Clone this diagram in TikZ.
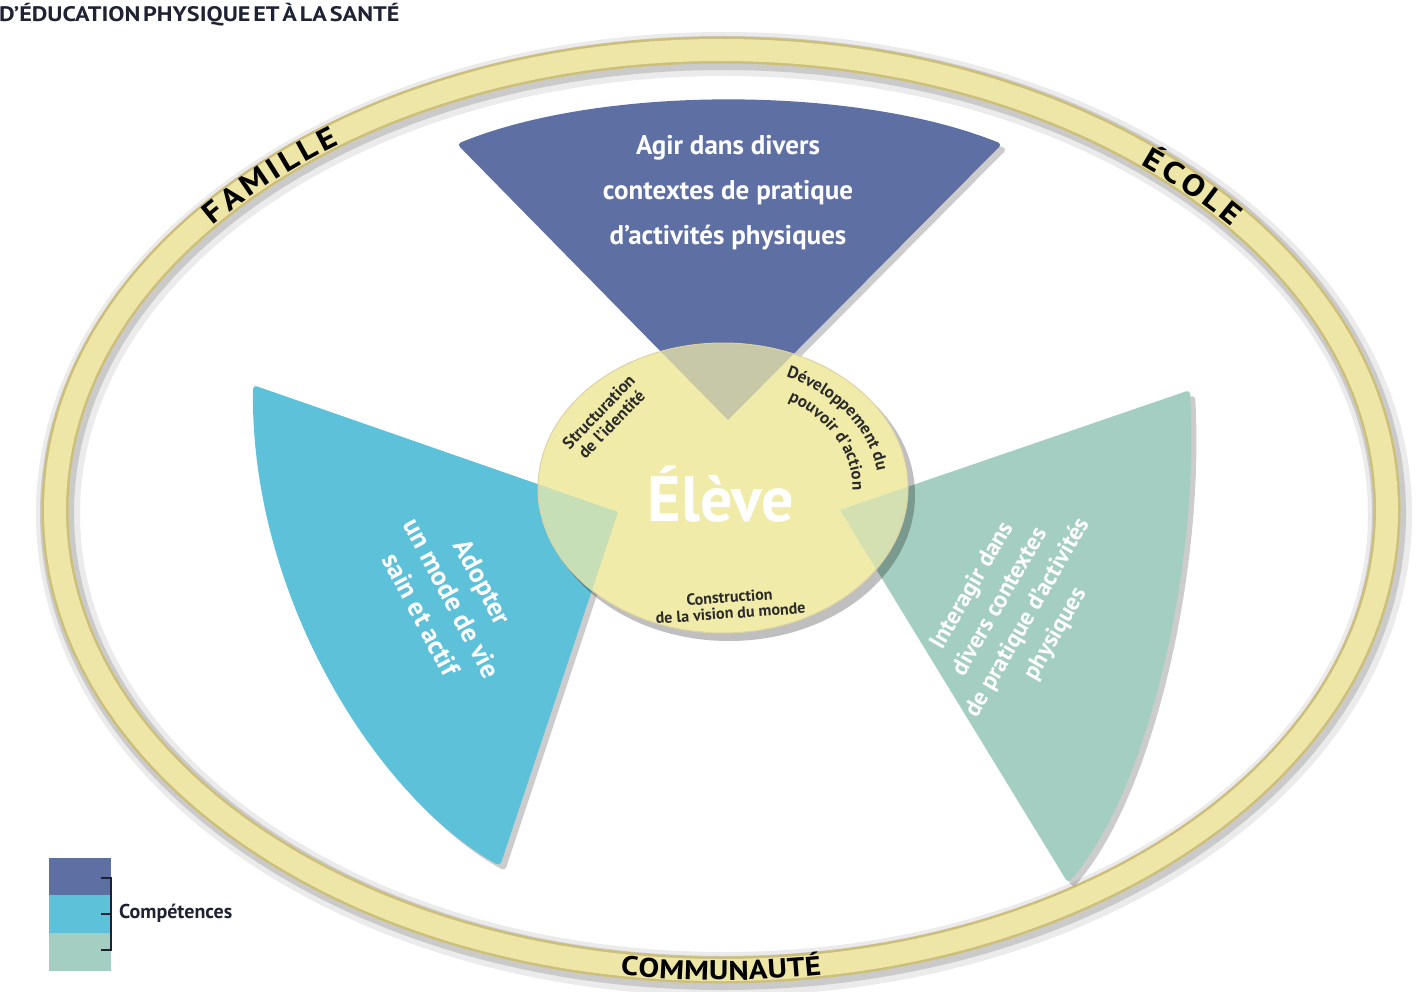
\documentclass[tikz,border=0pt]{standalone}
\usepackage{fontspec}
\setmainfont{PT Sans}
\newfontfamily\ringfont{PT Sans}[FakeStretch=1.15,WordSpace=0.45]
\usetikzlibrary{decorations.text,shadows}
\definecolor{topblue}{HTML}{5D6FA3}
\definecolor{cyanw}{HTML}{5DC1DA}
\definecolor{sagew}{HTML}{A3CEC1}
\definecolor{eleve}{HTML}{F1EBAA}
\definecolor{ringfill}{HTML}{EEE6A6}
\definecolor{ringedge}{HTML}{CDBF7A}
\definecolor{navy}{HTML}{1E2233}
\definecolor{inktext}{HTML}{2B2B2B}
\tikzset{
  wedge/.style={rounded corners=4pt, drop shadow={shadow xshift=5pt,shadow yshift=-5pt,opacity=.25,fill=black!80}},
  wtxt/.style={text=white, align=center, inner sep=0pt},
  smalltxt/.style={text=inktext, align=center, inner sep=0pt, font=\bfseries\fontsize{17}{18}\selectfont},
}
\begin{document}
\begin{tikzpicture}[x=1pt,y=-1pt]
\useasboundingbox (0,0) rectangle (1427,992);

% title
\node[anchor=west, inner sep=0pt, text=navy, font=\ringfont\bfseries\fontsize{21}{21}\selectfont] (title) at (-1,15) {D’ÉDUCATION PHYSIQUE ET À LA SANTÉ};

% outer ring
\coordinate (rc) at (721,510);
\draw[line width=44pt, black, opacity=.08] (724,514) ellipse [x radius=666, y radius=460];
\draw[line width=34pt, black, opacity=.14] (723,513) ellipse [x radius=666, y radius=460];
\draw[line width=27pt, ringedge] (rc) ellipse [x radius=666, y radius=460];
\draw[line width=22pt, ringfill] (rc) ellipse [x radius=666, y radius=460];

% ring labels
\path[decorate, decoration={text along path, text align=center, raise=-10pt,
  text={|\ringfont\bfseries\fontsize{30}{30}\selectfont|F A M I L L E}}]
  plot[samples=61, domain=0:40] ({721+666*cos(154-\x)}, {510-460*sin(154-\x)});
\path[decorate, decoration={text along path, text align=center, raise=-10pt,
  text={|\ringfont\bfseries\fontsize{30}{30}\selectfont|É C O L E}}]
  plot[samples=61, domain=0:34] ({721+666*cos(61-\x)}, {510-460*sin(61-\x)});
\path[decorate, decoration={text along path, text align=center, raise=-10pt,
  text={|\ringfont\bfseries\fontsize{27}{27}\selectfont|COMMUNAUTÉ}}]
  plot[samples=61, domain=0:40] ({721+666*cos(250+\x)}, {510-460*sin(250+\x)});

% wedges
\coordinate (tA) at (728,420);
\coordinate (t1) at (457,144);
\coordinate (t2) at (1002,144);
\coordinate (lA) at (618,512);
\coordinate (l1) at (253,385);
\coordinate (l2) at (500,866);
\coordinate (rA) at (840,510);
\coordinate (r1) at (1190,390);
\coordinate (r2) at (1068,883);

\fill[wedge, topblue] (tA) -- (t1) .. controls (600,85) and (856,85) .. (t2) -- cycle;
\fill[wedge, cyanw] (lA) -- (l1) .. controls (250,600) and (380,800) .. (l2) -- cycle;
\fill[wedge, sagew] (rA) -- (r1) .. controls (1200,560) and (1150,790) .. (r2) -- cycle;

% centre ellipse
\coordinate (ec) at (723,488);
\fill[black, opacity=.25] (729,495) ellipse [x radius=186, y radius=146];
\fill[eleve] (ec) ellipse [x radius=185, y radius=145];
\begin{scope}
  \clip (ec) ellipse [x radius=185, y radius=145];
  \fill[topblue, opacity=.28] (tA) -- (t1) .. controls (600,85) and (856,85) .. (t2) -- cycle;
  \fill[cyanw, opacity=.28] (lA) -- (l1) .. controls (250,600) and (380,800) .. (l2) -- cycle;
  \fill[sagew, opacity=.35] (rA) -- (r1) .. controls (1200,560) and (1150,790) .. (r2) -- cycle;
\end{scope}
\draw[ringedge!70, line width=1pt] (ec) ellipse [x radius=185, y radius=145];

% wedge texts
\node[wtxt, font=\bfseries\fontsize{27}{45}\selectfont] (toptxt) at (728,193) {Agir dans divers\\contextes de pratique\\d’activités physiques};
\node[wtxt, rotate=-62, font=\bfseries\fontsize{27}{35}\selectfont] (lefttxt) at (452,598) {Adopter\\un mode de vie\\sain et actif};
\node[wtxt, rotate=60, font=\bfseries\fontsize{24}{32}\selectfont] (righttxt) at (1014,610) {Interagir dans\\divers contextes\\de pratique d’activités\\physiques};

% centre texts
\node[wtxt, font=\bfseries\fontsize{64}{64}\selectfont] (eleve) at (721,494) {Élève};
\node[smalltxt, rotate=46] (struct) at (605,418) {Structuration\\de l’identité};
\node[smalltxt, rotate=4, font=\bfseries\fontsize{16}{16}\selectfont] (constr) at (730,605) {Construction\\de la vision du monde};

\path[decorate, decoration={text along path, text align=center,
  text={|\bfseries\fontsize{17}{17}\selectfont\color{inktext}|Développement du}}]
  plot[samples=61, domain=0:76] ({723+185*0.84*cos(74-\x)}, {488-145*0.84*sin(74-\x)});
\path[decorate, decoration={text along path, text align=center,
  text={|\bfseries\fontsize{17}{17}\selectfont\color{inktext}|pouvoir d’action}}]
  plot[samples=61, domain=0:66] ({723+185*0.70*cos(62-\x)}, {488-145*0.70*sin(62-\x)});

% legend
\fill[topblue] (49,858) rectangle (111,895);
\fill[cyanw] (49,895) rectangle (111,933);
\fill[sagew] (49,933) rectangle (111,971);
\coordinate (bt) at (111,878);
\coordinate (bb) at (111,950);
\coordinate (bm) at (111,914);
\draw[navy, line width=1.8pt] ([xshift=-10pt]bt) -- (bt) -- (bb) -- ([xshift=-10pt]bb);
\draw[navy, line width=1.8pt] ([xshift=-10pt]bm) -- (bm);
\node[anchor=west, inner sep=0pt, text=navy, font=\bfseries\fontsize{20}{20}\selectfont] (comp) at (119,913) {Compétences};
\end{tikzpicture}
\end{document}
